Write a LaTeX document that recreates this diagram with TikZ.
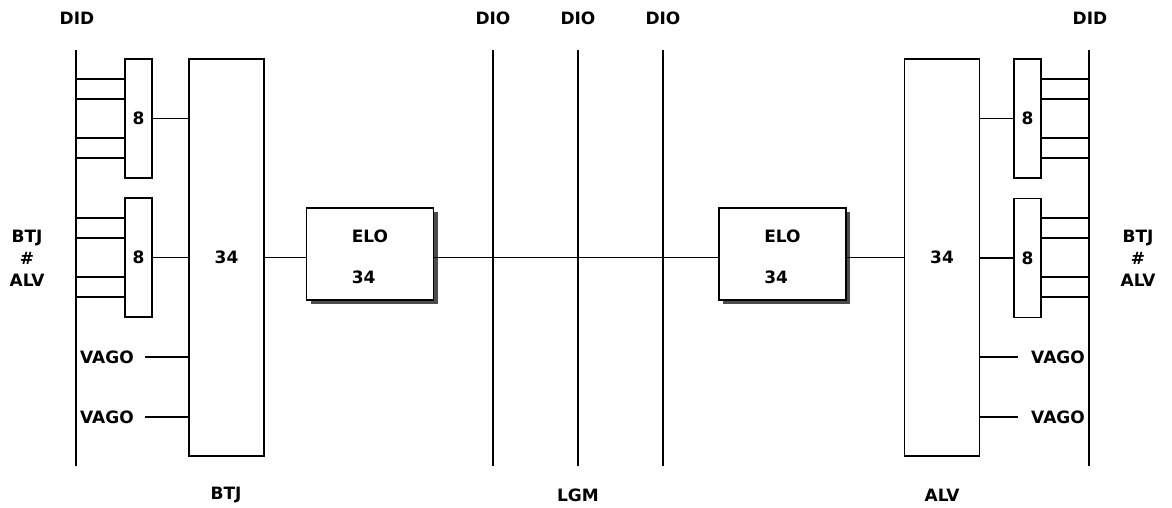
\documentclass[tikz,border=0pt]{standalone}
\usepackage{fontspec}
\setmainfont{DejaVu Sans}
\usetikzlibrary{shadows}
\begin{document}
\begin{tikzpicture}[x=1pt,y=-1pt,
  every node/.style={font=\fontsize{17}{19}\selectfont\bfseries},
  bus/.style={line width=1.9pt},
  wire/.style={line width=1.4pt},
  boxn/.style={draw,line width=1.5pt,inner sep=0pt,fill=white},
  eightbox/.style={boxn,minimum width=27pt,minimum height=119pt},
  bigbox/.style={boxn,minimum width=75pt,minimum height=397pt},
  elobox/.style={boxn,minimum width=127pt,minimum height=92pt,align=left,
    general shadow={shadow xshift=4pt,shadow yshift=-4pt,fill=black!70}},
  lbl/.style={inner sep=0pt}
]
\useasboundingbox (0,0) rectangle (1172,508);

% buses
\coordinate (lbT) at (76,50);  \coordinate (lbB) at (76,466);
\coordinate (rbT) at (1089,50); \coordinate (rbB) at (1089,466);
\coordinate (d1T) at (493,50); \coordinate (d1B) at (493,466);
\coordinate (d2T) at (578,50); \coordinate (d2B) at (578,466);
\coordinate (d3T) at (663,50); \coordinate (d3B) at (663,466);
\draw[bus] (lbT) -- (lbB);
\draw[bus] (rbT) -- (rbB);
\draw[bus] (d1T) -- (d1B);
\draw[bus] (d2T) -- (d2B);
\draw[bus] (d3T) -- (d3B);

% boxes
\node[eightbox] (b1) at (138.5,118.5) {8};
\node[eightbox] (b2) at (138.5,257.5) {8};
\node[bigbox] (B) at (226.5,257.5) {34};
\node[elobox] (E1) at (370,254) {\rule{0pt}{19pt}ELO\\[22pt]34};
\node[elobox] (E2) at (782.5,254) {\rule{0pt}{19pt}ELO\\[22pt]34};
\node[bigbox] (R) at (942,257.5) {34};
\node[eightbox] (b3) at (1027.5,118.5) {8};
\node[eightbox] (b4) at (1027.5,258) {8};

% bus to 8-boxes
\foreach \yy in {79,99,138,158}{
  \draw[wire] (lbT |- 0,\yy) -- (b1.west |- 0,\yy);
  \draw[wire] (b3.east |- 0,\yy) -- (rbT |- 0,\yy);
}
\foreach \yy in {218,238,277,297}{
  \draw[wire] (lbT |- 0,\yy) -- (b2.west |- 0,\yy);
  \draw[wire] (b4.east |- 0,\yy) -- (rbT |- 0,\yy);
}

% 8-boxes to big boxes
\draw[wire] (b1.east) -- (b1.east -| B.west);
\draw[wire] (b2.east) -- (b2.east -| B.west);
\draw[wire] (R.east |- b3.west) -- (b3.west);
\draw[wire] (R.east |- b4.west) -- (b4.west);

% main line
\draw[wire] (B.east) -- (B.east -| E1.west);
\draw[wire] (B.east -| E1.east) -- (B.east -| E2.west);
\draw[wire] (B.east -| E2.east) -- (B.east -| R.west);

% VAGO
\node[lbl] (v1) at (107,357) {VAGO};
\node[lbl] (v2) at (107,417) {VAGO};
\node[lbl] (v3) at (1058,357) {VAGO};
\node[lbl] (v4) at (1058,417) {VAGO};
\draw[wire] ([xshift=11pt]v1.east) -- (v1.east -| B.west);
\draw[wire] ([xshift=11pt]v2.east) -- (v2.east -| B.west);
\draw[wire] (v3.west -| R.east) -- ([xshift=-13pt]v3.west);
\draw[wire] (v4.west -| R.east) -- ([xshift=-13pt]v4.west);

% labels
\node[lbl] (t1) at (77,18) {DID};
\node[lbl] (t2) at (1090,18) {DID};
\node[lbl] (t3) at (493,18) {DIO};
\node[lbl] (t4) at (578,18) {DIO};
\node[lbl] (t5) at (663,18) {DIO};
\node[lbl,align=center,font=\fontsize{17}{22}\selectfont\bfseries] (s1) at (27,258) {BTJ\\\#\\ALV};
\node[lbl,align=center,font=\fontsize{17}{22}\selectfont\bfseries] (s2) at (1138,258) {BTJ\\\#\\ALV};
\node[lbl] (u1) at (226,495) {BTJ};
\node[lbl] (u2) at (578,495) {LGM};
\node[lbl] (u3) at (942,495) {ALV};
\end{tikzpicture}
\end{document}
